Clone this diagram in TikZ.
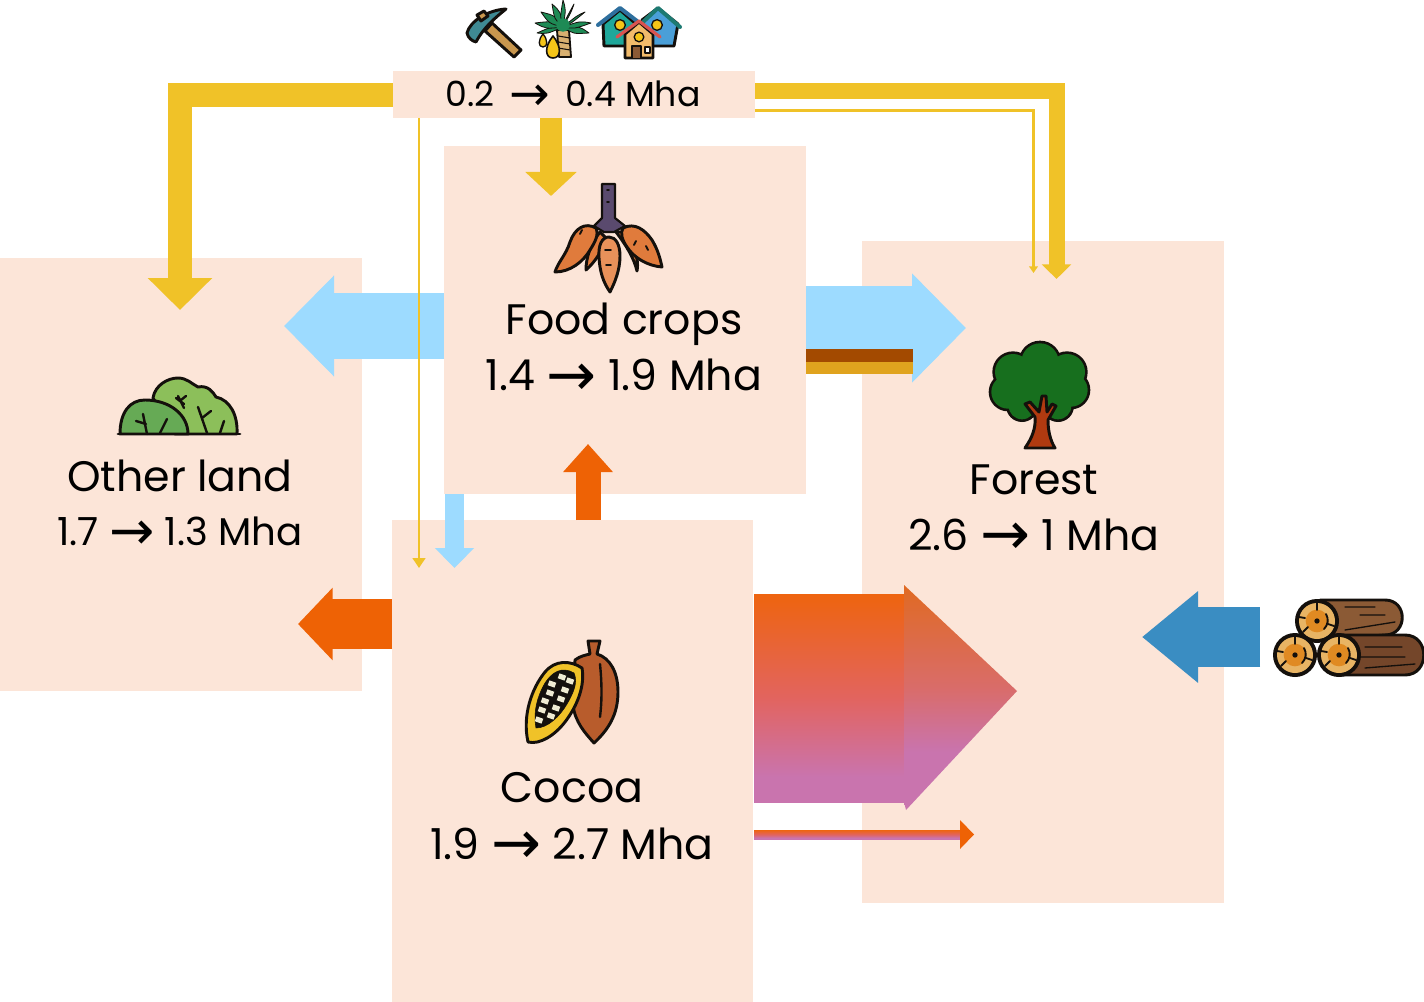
\documentclass[tikz,border=0pt]{standalone}
\usepackage{fontspec}
\setmainfont{Poppins}
\newfontfamily\arrowfont[Scale=1.4]{DejaVu Sans}
\usetikzlibrary{arrows.meta}
\definecolor{boxfill}{HTML}{FCE5D8}
\definecolor{flowyellow}{HTML}{F0C228}
\definecolor{flowblue}{HTML}{9DDBFF}
\definecolor{floworange}{HTML}{EE6205}
\definecolor{flowdeep}{HTML}{3A8DC2}
\definecolor{barbrown}{HTML}{A34A00}
\definecolor{bargold}{HTML}{E0A31E}
\definecolor{gradtop}{HTML}{EE640F}
\definecolor{gradmid}{HTML}{E2645F}
\definecolor{gradlow}{HTML}{C974AE}
\definecolor{headtop}{HTML}{E06A22}
\definecolor{headmid}{HTML}{D96C6A}
\definecolor{inkline}{HTML}{14100C}
\definecolor{treegreen}{HTML}{176F1E}
\newcommand{\hexc}[1]{\definecolor{#1}{HTML}{#1}}
\hexc{C9974E}\hexc{3F8A93}\hexc{D8B070}\hexc{1E8A55}\hexc{F5C518}
\hexc{4A9FD8}\hexc{1FA79A}\hexc{1D7A72}\hexc{2E6F9E}\hexc{F2BB6B}\hexc{D9534F}\hexc{8C5A35}
\hexc{5A4A6E}\hexc{E07B3C}\hexc{E8915A}\hexc{8CBF5A}\hexc{66AA55}\hexc{B85C2C}\hexc{F0C228}
\hexc{EFEBD2}\hexc{B03A10}\hexc{8B5A35}\hexc{74462A}\hexc{E8B464}\hexc{E08A22}
\pgfdeclareverticalshading{flowshade}{100bp}{color(0bp)=(gradlow); color(31bp)=(gradlow); color(50bp)=(gradmid); color(75bp)=(gradtop); color(100bp)=(gradtop)}
\pgfdeclareverticalshading{headshade}{100bp}{color(0bp)=(gradlow); color(38bp)=(gradlow); color(52bp)=(headmid); color(75bp)=(headtop); color(100bp)=(headtop)}
\newcommand{\arw}{\raisebox{-0.11em}{\arrowfont\char"2192}}
\tikzset{
  landbox/.style={fill=boxfill,draw=none,inner sep=0pt,outer sep=0pt,minimum width=271.5pt},
  bigtext/.style={inner sep=0pt,anchor=base,font=\fontsize{32}{38}\selectfont,text=black},
  smalltext/.style={inner sep=0pt,anchor=base,font=\fontsize{29}{35}\selectfont,text=black},
  toptext/.style={inner sep=0pt,anchor=base,font=\fontsize{26}{30}\selectfont,text=black},
  flow/.style={line cap=butt,line join=miter,miter limit=10},
  ink/.style={draw=inkline,line width=2.2pt,line join=round,line cap=round},
  thinink/.style={draw=inkline,line width=1.4pt,line join=round,line cap=round},
  frond/.style={fill=1E8A55,draw=inkline,line width=0.6pt,line join=round},
}
% one end of a sawn log
\newcommand{\logend}[2]{
  \fill[inkline] (#1,#2) circle (16.5pt);
  \fill[E8B464] (#1,#2) circle (13.5pt);
  \fill[E08A22] (#1,#2) circle (8.5pt);
  \fill[inkline] (#1,#2) circle (2pt);
  \draw[thinink] (#1,#2-19) -- (#1,#2-11) (#1+17,#2+5) -- (#1+11,#2+3) (#1-14,#2+11) -- (#1-9,#2+6) (#1-18,#2-4) -- (#1-12,#2-3);
  \draw[thinink] (#1+7,#2+8) .. controls (#1+11,#2+4) and (#1+12,#2-2) .. (#1+9,#2-7);
}
\begin{document}
\begin{tikzpicture}[x=0.75pt,y=-0.75pt]
\useasboundingbox (0,0) rectangle (1424,1002);
\fill[white] (0,0) rectangle (1424,1002);

% land-use boxes
\node[landbox,minimum height=324.75pt] (other) at (181,474.5) {};
\node[landbox,minimum height=261pt] (food) at (625,320) {};
\node[landbox,minimum height=496.5pt] (forest) at (1043,572) {};
\node[landbox,minimum width=270.75pt,minimum height=361.5pt] (cocoa) at (572.5,761) {};
\node[landbox,minimum height=35.25pt] (top) at (574,94.5) {};

% free ends of the flows
\coordinate (tipTopOther) at (180,310);
\coordinate (tipTopForest) at (1056.5,279);
\coordinate (tipTopForestThin) at (1033.5,273);
\coordinate (tipTopCocoa) at (419,568);
\coordinate (tipTopFood) at (551,196);
\coordinate (tipFoodOther) at (284,326);
\coordinate (tipFoodForest) at (966,328);
\coordinate (tipCocoaFood) at (588,444);
\coordinate (tipFoodCocoa) at (454.5,568);
\coordinate (tipCocoaOther) at (298,624);
\coordinate (tipLogs) at (1142,637);
\coordinate (logsStart) at (1260,637);

% flows out of the food-crop box
\draw[flow,flowblue,line width=49.5pt,-{Triangle[length=37.5pt,width=73.5pt]}] (food.west |- tipFoodOther) -- (tipFoodOther);
\draw[flow,flowblue,line width=63pt,-{Triangle[length=40.5pt,width=79.5pt]}] (food.east |- tipFoodForest) -- (tipFoodForest);
\fill[barbrown] (806,349) rectangle (913,362);
\fill[bargold] (806,362) rectangle (913,374);
\draw[flow,flowblue,line width=14.5pt,-{Triangle[length=15pt,width=28.5pt]}] (food.south -| tipFoodCocoa) -- (tipFoodCocoa);

% flows out of the cocoa box
\draw[flow,floworange,line width=18.75pt,-{Triangle[length=21pt,width=36pt]}] (cocoa.north -| tipCocoaFood) -- (tipCocoaFood);
\draw[flow,floworange,line width=37.5pt,-{Triangle[length=26pt,width=53pt]}] (cocoa.west |- tipCocoaOther) -- (tipCocoaOther);
\shade[shading=flowshade] (754,594) rectangle (906,802);
\shade[shading=headshade] (904,585) -- (1017,691) -- (906,810) -- (904,802) -- cycle;
\shade[shading=flowshade] (754,830) rectangle (961,839);
\fill[floworange] (960,820) -- (974,834.5) -- (960,849) -- cycle;

% logging flow into the forest
\draw[flow,flowdeep,line width=45pt,-{Triangle[length=42pt,width=66pt]}] (logsStart) -- (tipLogs);

% flows out of the settlements and mining box
\draw[flow,flowyellow,line width=18pt,-{Triangle[length=24pt,width=47pt]}] (top.west |- 0,95) -| (tipTopOther);
\draw[flow,flowyellow,line width=12pt,-{Triangle[length=11pt,width=21.5pt]}] (top.east |- 0,91) -- (1056.5,91) -- (tipTopForest);
\draw[flow,flowyellow,line width=2.2pt,-{Triangle[length=5pt,width=6.5pt]}] (top.east |- 0,110.5) -| (tipTopForestThin);
\draw[flow,flowyellow,line width=2.2pt,-{Triangle[length=7.5pt,width=9.5pt]}] (top.south -| tipTopCocoa) -- (tipTopCocoa);
\draw[flow,flowyellow,line width=16.5pt,-{Triangle[length=18pt,width=37.5pt]}] (top.south -| tipTopFood) -- (tipTopFood);

% labels
\node[toptext] (toplabel) at (573,107) {0.2 \,\arw\, 0.4 Mha};
\node[bigtext] (foodname) at (624,334) {Food crops};
\node[bigtext] (foodarea) at (624,390.5) {1.4 \arw{} 1.9 Mha};
\node[bigtext] (othername) at (180,491) {Other land};
\node[smalltext] (otherarea) at (180,545) {1.7 \arw{} 1.3 Mha};
\node[bigtext] (forestname) at (1034,494) {Forest};
\node[bigtext] (forestarea) at (1034,550) {2.6 \arw{} 1 Mha};
\node[bigtext] (cocoaname) at (572,802) {Cocoa};
\node[bigtext] (cocoaarea) at (572,859) {1.9 \arw{} 2.7 Mha};

% pickaxe
\draw[ink,fill=C9974E] (485,31) -- (514,57) -- (521,50) -- (492,23) -- cycle;
\draw[ink,fill=3F8A93] (467,33) .. controls (470,21) and (488,10) .. (506,9) .. controls (495,18) and (484,27) .. (476,42) .. controls (472,41) and (468,38) .. (467,33) -- cycle;
\draw[ink,fill=C9974E] (477,15) -- (484,11) -- (488,16) -- (481,21) -- cycle;

% oil palm and drops
\draw[ink,line width=1.4pt,fill=D8B070] (557,30) -- (569,30) -- (571,57) -- (559,57) -- cycle;
\foreach \yy in {36,42,48}{\draw[thinink,line width=0.8pt] (558,\yy) -- (570,\yy+2);}
\foreach \tx/\ty in {537/33,589/33,535/23,591/23,541/12,585/12,552/4,574/4,563/0}{
  \draw[frond] (563,27) .. controls ({(563+\tx)/2+3},{(27+\ty)/2-4}) .. (\tx,\ty) .. controls ({(563+\tx)/2-3},{(27+\ty)/2+4}) .. (563,27) -- cycle;
}
\fill[1E8A55] (563,25) circle (5pt);
\draw[thinink,line width=1.2pt,fill=F5C518] (553,36) .. controls (562,47) and (561,58) .. (553,58) .. controls (545,58) and (544,47) .. (553,36) -- cycle;
\draw[thinink,line width=1pt,fill=F5C518] (543,34) .. controls (548,40) and (548,47) .. (543,47) .. controls (538,47) and (538,40) .. (543,34) -- cycle;

% three houses
\draw[ink,fill=4A9FD8] (642,20) -- (658,8) -- (678,24) -- (674,46) -- (650,46) -- cycle;
\draw[ink,fill=1FA79A] (603,24) -- (620,10) -- (636,24) -- (634,46) -- (604,46) -- cycle;
\draw[ink,draw=1D7A72,line width=3pt] (643,22) -- (658,8) -- (680,27);
\draw[ink,draw=2E6F9E,line width=3pt] (598,25) -- (620,8) -- (637,21);
\fill[F5C518,draw=inkline,line width=1pt] (620,25) circle (4pt);
\fill[F5C518,draw=inkline,line width=1pt] (657,25) circle (4pt);
\draw[ink,fill=F2BB6B] (625,34) -- (639,22) -- (653,34) -- (653,58) -- (625,58) -- cycle;
\draw[ink,draw=D9534F,line width=2.4pt] (617,37) -- (639,21) -- (660,37);
\fill[F5C518,draw=inkline,line width=1pt] (639,37) circle (3.6pt);
\draw[thinink,fill=8C5A35] (632,58) -- (632,46) -- (641,46) -- (641,58);
\draw[thinink,line width=1pt,fill=white] (645,47) rectangle (650,53);

% cassava roots
\draw[fill=5A4A6E,draw=inkline,line width=1.6pt,line join=round] (602,184) -- (615,184) -- (615,218) -- (625,226) -- (614,232) -- (604,232) -- (594,226) -- (602,218) -- cycle;
\draw[ink,fill=E07B3C] (600,232) .. controls (590,245) and (586,258) .. (586,270) .. controls (595,262) and (603,250) .. (606,238) -- cycle;
\draw[ink,fill=E07B3C] (616,232) .. controls (626,245) and (634,258) .. (637,271) .. controls (640,255) and (630,240) .. (622,232) -- cycle;
\draw[ink,fill=E07B3C] (596,228) .. controls (585,222) and (575,228) .. (570,242) .. controls (566,255) and (558,262) .. (555,272) .. controls (570,272) and (583,262) .. (590,250) .. controls (595,242) and (599,235) .. (596,228) -- cycle;
\draw[ink,fill=E07B3C] (623,228) .. controls (635,222) and (645,230) .. (652,240) .. controls (658,250) and (660,258) .. (662,267) .. controls (648,266) and (634,258) .. (627,247) .. controls (622,240) and (620,233) .. (623,228) -- cycle;
\draw[ink,fill=E8915A] (609,237) .. controls (602,237) and (598,245) .. (599,258) .. controls (600,272) and (603,282) .. (610,292) .. controls (615,282) and (620,270) .. (620,256) .. controls (620,245) and (616,237) .. (609,237) -- cycle;
\draw[thinink] (605,250) -- (611,250) (606,265) -- (611,265) (607,190) -- (609,190) (607,202) -- (609,202) (582,230) -- (580,234) (569,246) -- (567,249) (646,246) -- (648,250) (636,241) -- (634,245);

% shrub
\draw[ink,fill=8CBF5A] (153,398) .. controls (155,385) and (168,378) .. (178,378) .. controls (187,378) and (192,384) .. (198,387) .. controls (208,385) and (213,392) .. (216,397) .. controls (230,400) and (238,415) .. (237,434) -- (175,434) -- cycle;
\draw[ink,fill=66AA55] (120,434) .. controls (120,412) and (130,400) .. (145,400) .. controls (170,400) and (188,415) .. (188,434) -- cycle;
\draw[ink] (118,434) -- (240,434);
\draw[thinink,line width=1.8pt] (147,434) -- (143,414) (146,424) -- (136,421) (160,433) -- (167,419)
  (184,408) -- (178,396) (184,404) -- (176,398) (181,400) -- (186,396)
  (207,433) -- (198,407) (202,418) -- (211,411) (220,433) -- (224,421);

% cocoa pods
\draw[ink,fill=B85C2C] (588,641) -- (600,641) -- (597,654) .. controls (610,658) and (618,672) .. (618,692) .. controls (618,715) and (608,730) .. (594,743) .. controls (585,733) and (575,722) .. (573,705) -- (575,660) .. controls (580,656) and (586,655) .. (590,654) -- cycle;
\draw[thinink,line width=1.8pt] (600,664) .. controls (602,685) and (602,700) .. (600,717);
\draw[ink,fill=F0C228] (582,668) .. controls (570,660) and (555,660) .. (545,672) .. controls (532,688) and (522,715) .. (528,742) .. controls (540,745) and (555,735) .. (565,722) .. controls (578,705) and (585,685) .. (582,668) -- cycle;
\draw[inkline,fill=inkline] (574,673) .. controls (562,666) and (552,672) .. (545,683) .. controls (537,697) and (533,712) .. (536,728) .. controls (548,728) and (560,716) .. (567,704) .. controls (574,692) and (578,682) .. (574,673) -- cycle;
\foreach \sx/\sy in {562/677,570/681,552/684,565/690,550/693,545/701,561/699,542/710,556/708,539/720,551/716}{
  \fill[EFEBD2,rotate around={-20:(\sx,\sy)}] (\sx-3.6,\sy-2.6) rectangle (\sx+3.6,\sy+2.6);
}

% tree
\foreach \cx/\cy/\rr in {1040/362/14,1013/372/13.5,1067/372/13.5,1008/392/12.5,1071/390/12.5,1040/390/19,1022/406/10,1058/406/10}{
  \fill[inkline] (\cx,\cy) circle ({\rr+2pt});
}
\foreach \cx/\cy/\rr in {1040/362/14,1013/372/13.5,1067/372/13.5,1008/392/12.5,1071/390/12.5,1040/390/19,1022/406/10,1058/406/10}{
  \fill[treegreen] (\cx,\cy) circle ({\rr*1pt});
}
\draw[ink,fill=B03A10] (1025,448) .. controls (1032,438) and (1036,428) .. (1035,417) -- (1025,404) -- (1030,402) -- (1039,412) -- (1042,396) -- (1046,396) -- (1047,412) -- (1052,404) -- (1056,406) -- (1048,420) .. controls (1048,430) and (1050,440) .. (1055,448) -- cycle;

% stacked logs
\draw[ink,fill=8B5A35] (1320,600) -- (1385,600) .. controls (1408,600) and (1408,635) .. (1385,635) -- (1320,640) -- cycle;
\draw[ink,fill=74462A] (1340,635) -- (1405,635) .. controls (1430,635) and (1430,675) .. (1405,675) -- (1340,675) -- cycle;
\draw[thinink,line width=1pt] (1345,607) -- (1375,607) (1360,615) -- (1385,615) (1345,630) -- (1395,622) (1365,647) -- (1402,647) (1360,657) -- (1405,657) (1365,668) -- (1415,664);
\logend{1317}{621}
\logend{1295}{655}
\logend{1339}{655}
\end{tikzpicture}
\end{document}
